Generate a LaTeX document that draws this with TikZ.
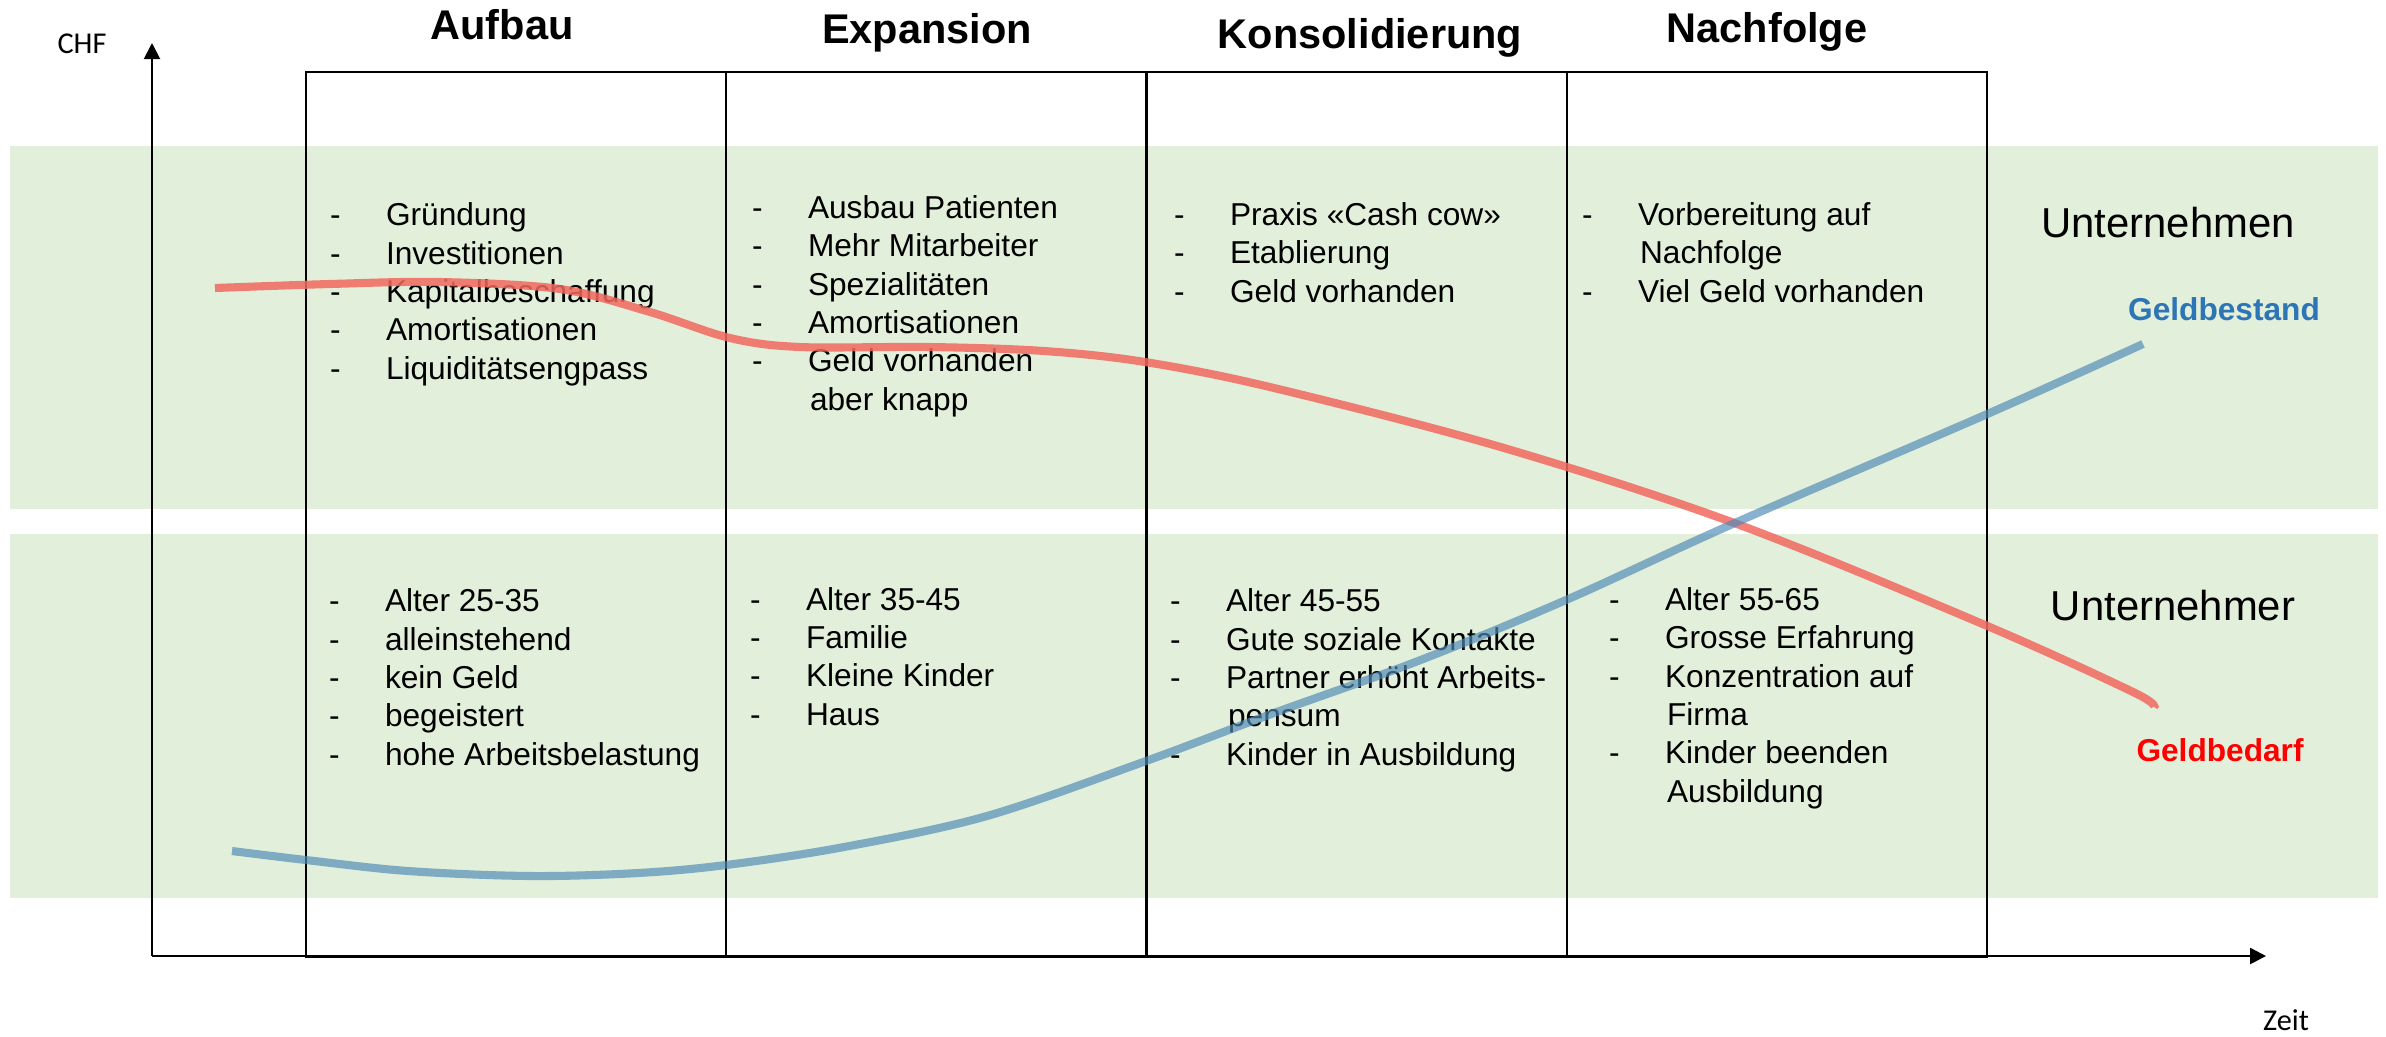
\documentclass[tikz,border=0pt]{standalone}
\usepackage{fontspec}
\setmainfont{Liberation Sans}
\newfontfamily\calfont{Carlito}
\usepackage{xcolor}
\usetikzlibrary{arrows.meta, positioning}
\definecolor{bandgreen}{HTML}{E2EFDA}
\definecolor{bedarfred}{HTML}{F2685F}
\definecolor{bestandblue}{HTML}{4F8AB8}
\definecolor{labelblue}{HTML}{2E75B6}
\newcommand{\li}{\makebox[0.56cm][l]{-}}
\newcommand{\lc}{\hspace*{0.58cm}}

\begin{document}
\begin{tikzpicture}[
    x=0.01cm, y=-0.01cm,
    every node/.style={inner sep=0pt, outer sep=0pt},
    col/.style={draw, line width=0.6pt, minimum width=4.2cm, minimum height=8.84cm},
    phase/.style={anchor=base, font=\fontsize{11.8}{14}\selectfont\bfseries},
    list/.style={anchor=base west, align=left, font=\fontsize{9}{10.9}\selectfont},
    side/.style={anchor=base, font=\fontsize{11.9}{14}\selectfont},
    curvelabel/.style={anchor=base, font=\fontsize{9}{11}\selectfont\bfseries},
    axislabel/.style={anchor=base, font=\calfont\fontsize{8.6}{10}\selectfont},
    >={Triangle[length=0.16cm, width=0.16cm]}]
    \useasboundingbox (0,0) rectangle (2386,1036);
    \fill[bandgreen] (10,146) rectangle (2378,509);
    \fill[bandgreen] (10,534) rectangle (2378,898);
    \node[col, anchor=north west] (c1) at (306,72) {};
    \node[col, right=0pt of c1] (c2) {};
    \node[col, right=0pt of c2] (c3) {};
    \node[col, right=0pt of c3] (c4) {};
    \node[phase] (auf) at (502,39) {Aufbau};
    \node[phase] (exp) at (927,43) {Expansion};
    \node[phase] (kon) at (1370,48) {Konsolidierung};
    \node[phase] (nach) at (1767,42) {Nachfolge};
    \node[list] (auf1) at (330,379) {\li Gründung\\ \li Investitionen\\ \li Kapitalbeschaffung\\ \li Amortisationen\\ \li Liquiditätsengpass};
    \node[list] (exp1) at (752,410) {\li Ausbau Patienten\\ \li Mehr Mitarbeiter\\ \li Spezialitäten\\ \li Amortisationen\\ \li Geld vorhanden\\ \lc aber knapp};
    \node[list] (kon1) at (1174,302) {\li Praxis «Cash cow»\\ \li Etablierung\\ \li Geld vorhanden};
    \node[list] (nach1) at (1582,302) {\li Vorbereitung auf\\ \lc Nachfolge\\ \li Viel Geld vorhanden};
    \node[list] (auf2) at (329,765) {\li Alter 25-35\\ \li alleinstehend\\ \li kein Geld\\ \li begeistert\\ \li hohe Arbeitsbelastung};
    \node[list] (exp2) at (750,725) {\li Alter 35-45\\ \li Familie\\ \li Kleine Kinder\\ \li Haus};
    \node[list] (kon2) at (1170,765) {\li Alter 45-55\\ \li Gute soziale Kontakte\\ \li Partner erhöht Arbeits-\\ \lc pensum\\ \li Kinder in Ausbildung};
    \node[list] (nach2) at (1609,802) {\li Alter 55-65\\ \li Grosse Erfahrung\\ \li Konzentration auf\\ \lc Firma\\ \li Kinder beenden\\ \lc Ausbildung};
    \node[side] (untn) at (2168,237) {Unternehmen};
    \node[side] (untr) at (2173,620) {Unternehmer};
    \node[curvelabel, text=labelblue] (bestand) at (2224,320) {Geldbestand};
    \node[curvelabel, text=red] (bedarf) at (2220,761) {Geldbedarf};
    \node[axislabel] (chf) at (82,53) {CHF};
    \node[axislabel] (zeit) at (2286,1030) {Zeit};
    \coordinate (o) at (152,956);
    \coordinate (ytop) at (152,43);
    \coordinate (xend) at (2266,956);
    \draw[->, line width=0.55pt] (o) -- (ytop);
    \draw[->, line width=0.7pt] (o) -- (xend);
    \draw[bedarfred, opacity=0.85, line width=2.3pt] plot[smooth, tension=0.55] coordinates {
        (215,288) (330,284) (440,282) (560,289) (650,312) (730,338) (800,347) (930,347)
        (1044,351) (1145,362) (1274,388) (1504,448) (1737,524) (1985,625) (2133,692) (2154,707)};
    \draw[bestandblue, opacity=0.68, line width=2.3pt] plot[smooth, tension=0.55] coordinates {
        (232,851) (306,860) (408,871) (531,876) (638,873) (726,865) (844,847) (987,816)
        (1146,761) (1274,713) (1418,661) (1566,600) (1737,522) (1985,415) (2143,344)};
\end{tikzpicture}
\end{document}
